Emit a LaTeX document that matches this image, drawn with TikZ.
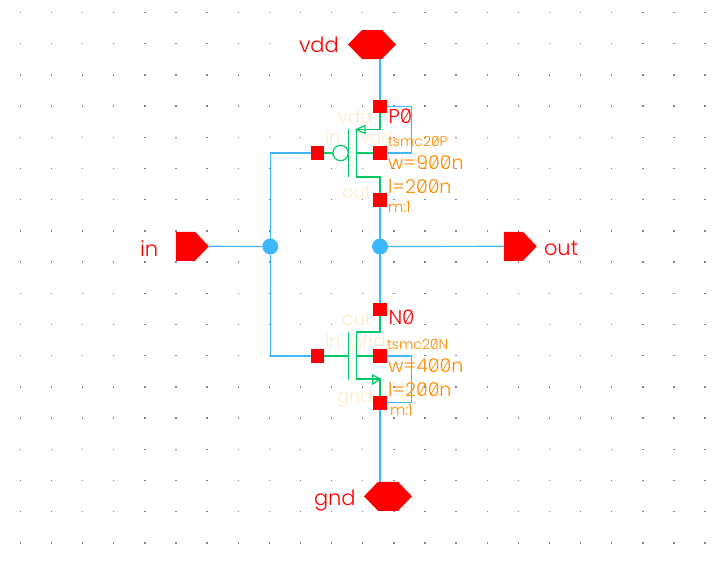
\documentclass[tikz,border=0pt]{standalone}
\usepackage{fontspec}
\newfontfamily\strokefont{Poppins Light}
\usetikzlibrary{shapes.symbols}
\definecolor{wire}{HTML}{3DB8FF}
\definecolor{dev}{HTML}{00C864}
\definecolor{param}{HTML}{FF8C00}
\definecolor{pale}{HTML}{FFEBCD}
\definecolor{griddot}{HTML}{8080A0}
\newcommand{\zr}{\leavevmode\rlap{\tikz[overlay,baseline=0pt]\draw[line width=.7pt,line cap=round] (.14em,.06em)--(.5em,.66em);}0}
\newcommand{\stroketext}[1]{\strokefont\fontsize{#1}{#1}\selectfont}
\tikzset{
  pinbox/.style={rectangle,fill=red,draw=none,minimum size=13.5pt,inner sep=0pt,outer sep=0pt},
  junction/.style={circle,fill=wire,draw=none,minimum size=16pt,inner sep=0pt,outer sep=0pt},
  portarrow/.style={shape=signal,signal to=east,signal pointer angle=93,fill=red,draw=none,minimum width=33pt,minimum height=29pt,inner sep=0pt,outer sep=0pt},
  porthex/.style={shape=signal,signal to=east and west,signal pointer angle=92,fill=red,draw=none,minimum width=48pt,minimum height=29pt,inner sep=0pt,outer sep=0pt},
  wireline/.style={draw=wire,line width=1.2pt},
  devline/.style={draw=dev,line width=1.2pt},
  txt/.style={inner sep=0pt,outer sep=0pt,anchor=base west},
  netlabel/.style={txt,text=red,font=\stroketext{21}},
  instlabel/.style={txt,text=red,font=\stroketext{20}},
  paramlarge/.style={txt,text=param,font=\stroketext{19}},
  paramsmall/.style={txt,text=param,font=\stroketext{14}},
  paramtiny/.style={txt,text=param,font=\stroketext{15}},
  pinlabel/.style={txt,text=pale,font=\stroketext{18}},
}
\begin{document}
\begin{tikzpicture}[x=1pt,y=-1pt]
\useasboundingbox (0,0) rectangle (712,563);
% grid
\foreach \i in {0,...,22}\foreach \j in {0,...,17}
  \fill[griddot] ({20.3+31.13*\i-.7},{12.4+31.2*\j-.7}) rectangle ++(1.4,1.4);
% pale pin labels
\node[pinlabel] (lpv1) at (338,123) {vdd};
\node[pinlabel] (lpi)  at (325,143.5) {in};
\node[pinlabel,font=\stroketext{17}] (lpv2) at (360.5,143.5) {vdd};
\node[pinlabel] (lpo)  at (342,198) {out};
\node[pinlabel] (lno)  at (342,325) {out};
\node[pinlabel] (lni)  at (325,347) {in};
\node[pinlabel] (lng)  at (350,347) {gnd};
\node[pinlabel] (lng2) at (337,402) {gnd};
% ports
\node[porthex] (vdd) at (372,44.5) {};
\node[porthex] (gnd) at (388,496.3) {};
\node[portarrow] (in) at (185.4,246.3) {};
\node[portarrow] (out) at (513.4,246.3) {};
% junctions
\node[junction] (jin) at (270.3,246.5) {};
\node[junction] (jout) at (380,246.5) {};
% PMOS pins
\node[pinbox] (ps) at (380,106.3) {};
\node[pinbox] (pg) at (317.5,153) {};
\node[pinbox] (pb) at (380,153) {};
\node[pinbox] (pd) at (380,199.8) {};
% NMOS pins
\node[pinbox] (nd) at (380,309.5) {};
\node[pinbox] (ng) at (317.5,356) {};
\node[pinbox] (nb) at (380,356) {};
\node[pinbox] (ns) at (380,402.8) {};
% wires
\draw[wireline] (ps.north) -- (ps.north |- vdd.south);
\draw[wireline] (ns.south) -- (ns.south |- gnd.north);
\draw[wireline] (in.east) -- (jin);
\draw[wireline] (jout) -- (out.west);
\draw[wireline] (jin) |- (pg.west);
\draw[wireline] (jin) |- (ng.west);
\draw[wireline] (pd.south) -- (nd.north);
\coordinate (pl1) at (411.5,106.3);
\coordinate (pl2) at (411.5,153);
\draw[wireline] (ps.east) -- (pl1) -- (pl2) -- (pb.east);
\coordinate (nl1) at (411.5,356);
\coordinate (nl2) at (411.5,402.8);
\draw[wireline] (nb.east) -- (nl1) -- (nl2) -- (ns.east);
% PMOS symbol
\coordinate (pgt) at (348.3,129);
\coordinate (pgb) at (348.3,177);
\coordinate (pct) at (356.3,129.5);
\coordinate (pcb) at (356.3,177);
\coordinate (pdt) at (380,129.5);
\coordinate (pdb) at (380,177);
\coordinate (pcm) at (356.3,153);
\node[circle,draw=dev,line width=1.2pt,fill=none,minimum size=15.4pt,inner sep=0pt,outer sep=0pt] (pbub) at (340.6,153) {};
\draw[devline] (pgt) -- (pgb);
\draw[devline] (pg.east) -- (pbub.west);
\draw[devline] (ps.south) -- (pdt) -- (pct) -- (pcb) -- (pdb) -- (pd.north);
\draw[devline] (pcm) -- (pb.west);
\coordinate (pa1) at (365,125.5);
\coordinate (pa2) at (365,133.5);
\draw[devline] (pct) -- (pa1) -- (pa2) -- cycle;
% NMOS symbol
\coordinate (ngt) at (348.3,332);
\coordinate (ngb) at (348.3,379.5);
\coordinate (nct) at (356.3,332);
\coordinate (ncb) at (356.3,379);
\coordinate (ndt) at (380,332);
\coordinate (nst) at (380,379);
\coordinate (ncm) at (356.3,356);
\coordinate (ngc) at (348.3,356);
\draw[devline] (ngt) -- (ngb);
\draw[devline] (ng.east) -- (ngc);
\draw[devline] (nd.south) -- (ndt) -- (nct) -- (ncb) -- (nst) -- (ns.north);
\draw[devline] (ncm) -- (nb.west);
\coordinate (na1) at (372.7,375);
\coordinate (na2) at (372.7,384);
\draw[devline] (nst) -- (na1) -- (na2) -- cycle;
% net labels
\node[netlabel] (tvdd) at (299,52) {vdd};
\node[netlabel] (tin) at (140,256) {in};
\node[netlabel] (tout) at (544,255) {out};
\node[netlabel] (tgnd) at (314,505) {gnd};
% instance labels
\node[instlabel] (tp0) at (388.5,123) {P\zr};
\node[instlabel] (tn0) at (388.5,324) {N\zr};
% parameters
\node[paramsmall] (pm) at (388,146) {tsmc2\zr P};
\node[paramlarge] (pw) at (388,169) {w=9\zr\zr n};
\node[paramlarge] (pl) at (388,193) {l=2\zr\zr n};
\node[paramtiny] (pm1) at (388,212) {m:1};
\node[paramsmall] (nm) at (387,349) {tsmc2\zr N};
\node[paramlarge] (nw) at (388,372) {w=4\zr\zr n};
\node[paramlarge] (nl) at (388,396) {l=2\zr\zr n};
\node[paramtiny] (nm1) at (390,415.7) {m:1};
\end{tikzpicture}
\end{document}
